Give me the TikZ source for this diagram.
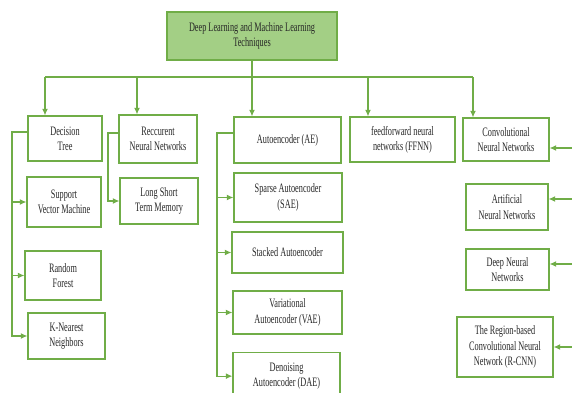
\documentclass[tikz,border=0pt]{standalone}
\usepackage{fontspec}
\setmainfont{Liberation Serif}[FakeStretch=0.64]
\usetikzlibrary{arrows,arrows.meta,calc,positioning}
\definecolor{boxgreen}{RGB}{112,173,71}
\definecolor{rootgreen}{RGB}{163,207,133}
\tikzset{
  treenode/.style = {shape=rectangle, draw=boxgreen, line width=1.1pt,
                     align=center, inner sep=1pt, text=black!85,
                     font=\fontsize{11}{13}\selectfont},
  root/.style     = {treenode, fill=rootgreen},
  boxsize/.style 2 args = {minimum width=#1*0.03cm, minimum height=#2*0.03cm},
  link/.style     = {draw=boxgreen, line width=0.9pt},
  arr/.style      = {link, -{Latex[length=5.5pt,width=5pt]}}
}

\begin{document}
\begin{tikzpicture}[x=0.03cm,y=-0.03cm]
\useasboundingbox (0,0) rectangle (572,392);
% root and first level
\node [root, boxsize={170}{48}] (dlml) at (252,36) {Deep Learning and Machine Learning\\Techniques};
\node [treenode, boxsize={74}{45}]  (dt)   at (65,138.5)  {Decision\\Tree};
\node [treenode, boxsize={78}{48}]  (rnn)  at (158,139)   {Reccurent\\Neural Networks};
\node [treenode, boxsize={107}{46}] (ae)   at (287.5,140) {Autoencoder (AE)};
\node [treenode, boxsize={105}{45}] (ffnn) at (402.5,139.5) {feedforward neural\\networks (FFNN)};
\node [treenode, boxsize={86}{43}]  (cnn)  at (506,139.5) {Convolutional\\Neural Networks};
% machine learning column
\node [treenode, boxsize={74}{50}] (svm) at (64,202)    {Support\\Vector Machine};
\node [treenode, boxsize={76}{49}] (rf)  at (63,275.5)  {Random\\Forest};
\node [treenode, boxsize={77}{46}] (knn) at (66.5,336)  {K-Nearest\\Neighbors};
\node [treenode, boxsize={78}{46}] (lstm) at (159,201)  {Long Short\\Term Memory};
% autoencoders
\node [treenode, boxsize={108}{49}] (sae) at (288,197.5)   {Sparse Autoencoder\\(SAE)};
\node [treenode, boxsize={111}{41}] (sta) at (287.5,252.5) {Stacked Autoencoder};
\node [treenode, boxsize={109}{43}] (vae) at (287.5,312.5) {Variational\\Autoencoder (VAE)};
\node [treenode, boxsize={107}{47}, anchor=north] (dae) at (286.5,352) {Denoising\\Autoencoder (DAE)};
% neural networks
\node [treenode, boxsize={82}{46}] (ann)  at (507,207)   {Artificial\\Neural Networks};
\node [treenode, boxsize={83}{41}] (dnn)  at (507.5,269.5) {Deep Neural\\Networks};
\node [treenode, boxsize={96}{60}] (rcnn) at (505,347)   {The Region-based\\Convolutional Neural\\Network (R-CNN)};

% bus
\coordinate (bus) at (252,77);
\coordinate (b1) at (45,77);
\coordinate (b2) at (137,77);
\coordinate (b4) at (368,77);
\coordinate (b5) at (473,77);
\draw [link] (dlml.south) -- (bus);
\draw [link] (b1) -- (b5);
\draw [arr] (b1) -- (b1 |- dt.north);
\draw [arr] (b2) -- (b2 |- rnn.north);
\draw [arr] (bus) -- (bus |- ae.north);
\draw [arr] (b4) -- (b4 |- ffnn.north);
\draw [arr] (b5) -- (b5 |- cnn.north);

% left spines
\coordinate (sp1) at (12,0);
\draw [arr] ($(dt.west)+(0,-6.5)$) -| (sp1 |- knn.west) -- (knn.west);
\draw [arr] (sp1 |- svm.west) -- (svm.west);
\draw [arr] (sp1 |- rf.west) -- (rf.west);
\coordinate (sp2) at (108,0);
\draw [arr] ($(rnn.west)+(0,-6)$) -| (sp2 |- lstm.west) -- (lstm.west);
\coordinate (sp3) at (217,0);
\draw [arr] ($(ae.west)+(0,-7)$) -| (sp3 |- dae.west) -- (dae.west);
\draw [arr] (sp3 |- sae.west) -- (sae.west);
\draw [arr] (sp3 |- sta.west) -- (sta.west);
\draw [arr] (sp3 |- vae.west) -- (vae.west);

% right side
\coordinate (rs) at (573,0);
\draw [arr] (rs |- {$(cnn.east)+(0,8.5)$}) -- ($(cnn.east)+(0,8.5)$);
\draw [arr] (rs |- {$(ann.east)+(0,-8)$}) -- ($(ann.east)+(0,-8)$);
\draw [arr] (rs |- {$(dnn.east)+(0,-5.5)$}) -- ($(dnn.east)+(0,-5.5)$);
\draw [arr] (rs |- rcnn.east) -- (rcnn.east);
\end{tikzpicture}
\end{document}
